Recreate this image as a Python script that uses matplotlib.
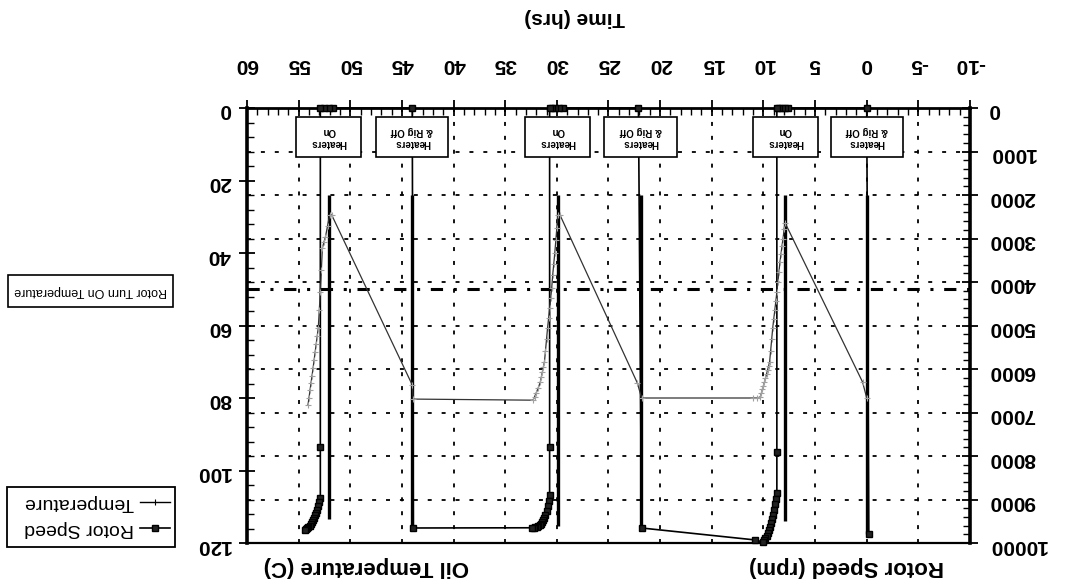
import matplotlib
matplotlib.use("Agg")
import matplotlib.pyplot as plt
import matplotlib.patches as mpatches
from matplotlib.lines import Line2D
from matplotlib.ticker import MultipleLocator

plt.rcParams['font.family'] = ['Liberation Sans', 'DejaVu Sans']
plt.rcParams['axes.unicode_minus'] = False

# rotor speed (rpm) vs time (hrs)
rotor_t = [-0.2, 0.0, 7.6, 7.9, 8.2, 8.5, 8.7, 8.7,
           8.7, 8.8, 8.9, 9.0, 9.1, 9.2, 9.3, 9.4, 9.5, 9.6, 9.7, 9.8, 9.9, 10.0,
           10.8, 21.8, 22.1, 29.4, 29.8, 30.2, 30.5, 30.7, 30.7,
           30.7, 30.8, 30.9, 31.0, 31.1, 31.2, 31.3, 31.4, 31.5, 31.65, 31.8, 31.95, 32.1, 32.25, 32.4,
           43.9, 44.0, 51.7, 52.1, 52.5, 52.9, 52.9,
           52.9, 53.0, 53.1, 53.2, 53.3, 53.4, 53.5, 53.6, 53.7, 53.8, 53.9, 54.05, 54.2, 54.3, 54.4]
rotor_rpm = [9800, 0, 0, 0, 0, 0, 0, 7900,
             8850, 8980, 9100, 9230, 9350, 9450, 9550, 9630, 9700, 9770, 9830, 9880, 9930, 9980,
             9930, 9655, 0, 0, 0, 0, 0, 0, 7800,
             8900, 9030, 9150, 9260, 9350, 9420, 9480, 9520, 9560, 9590, 9610, 9625, 9640, 9645, 9650,
             9655, 0, 0, 0, 0, 0, 7800,
             8970, 9060, 9150, 9230, 9300, 9360, 9420, 9470, 9520, 9560, 9600, 9630, 9660, 9680, 9700]

# oil temperature (C) vs time (hrs)
temp_t = [0.0, 0.4,
          7.9, 8.0, 8.1, 8.2, 8.3, 8.4, 8.5, 8.6, 8.7, 8.8, 8.9, 9.0, 9.1, 9.2, 9.3, 9.4,
          9.5, 9.6, 9.7, 9.8, 9.9, 10.0, 10.1, 10.2, 10.3, 10.6, 11.0,
          21.8, 22.2,
          29.7, 29.9, 30.0, 30.1, 30.2, 30.3, 30.4, 30.5, 30.6, 30.7, 30.8, 30.9, 31.0, 31.1,
          31.2, 31.3, 31.4, 31.5, 31.6, 31.8, 32.0, 32.15, 32.3,
          43.9, 44.0,
          51.8, 52.0, 52.2, 52.4, 52.55, 52.7, 52.8, 52.9, 53.0, 53.1, 53.2, 53.3, 53.4,
          53.5, 53.6, 53.7, 53.8, 53.9, 54.0, 54.1]
temp_c = [80, 75.6,
          31.7, 33.5, 36, 38, 40.3, 42.5, 45.3, 48, 50.8, 53.3, 55.8, 58.2, 60.7, 63.8, 66.9, 70,
          71.2, 72.3, 73.4, 74.5, 75.6, 76.6, 77.6, 78.7, 79.7, 80, 80,
          80, 75.9,
          29.5, 29.5, 33, 36.5, 40, 43, 46, 49.7, 52.5, 55.2, 58, 60.7, 63.8, 66.9,
          70, 71.4, 72.8, 74.2, 75.6, 77.2, 78.6, 79.6, 80.6,
          80.3, 76.4,
          29.5, 29.5, 32.5, 35.5, 37, 38.6, 44.7, 50.8, 55.7, 60.7, 62.9, 65.1, 67.3,
          69.5, 71.7, 73.8, 75.8, 77.9, 80, 82]

rotor_on_temp = 50

# events: time, bottom of the marker bar (rpm)
rig_off_t = [0.0, 21.9, 44.0]
rig_off_end = [9800, 9650, 9650]
heaters_on_t = [7.9, 29.9, 52.1]
heaters_on_end = [9500, 9600, 9450]
bar_start = 2000

x_ticks = list(range(-10, 61, 5))
rpm_ticks = list(range(0, 10001, 1000))
temp_ticks = list(range(0, 121, 20))

W, H = 1068, 583


def fx(px):
    return px / W


def fy(py):
    return 1 - py / H


fig = plt.figure(figsize=(W / 100, H / 100), dpi=100)
ax = fig.add_axes([fx(247), fy(543), fx(970) - fx(247), fy(108) - fy(543)])
ax2 = ax.twinx()

# picture is upside down: flip both axes, ticks on the opposite sides
ax.set_xlim(60, -10)
ax.set_ylim(10000, 0)
ax2.set_ylim(120, 0)
ax.xaxis.tick_top()
ax.yaxis.tick_right()
ax2.yaxis.tick_left()

ax.set_xticks(x_ticks)
ax.set_yticks(rpm_ticks)
ax2.set_yticks(temp_ticks)
ax.xaxis.set_minor_locator(MultipleLocator(1))
ax.yaxis.set_minor_locator(MultipleLocator(200))
ax2.yaxis.set_minor_locator(MultipleLocator(4))

for a in (ax, ax2):
    a.tick_params(which='major', direction='inout', length=11, width=1.3, colors='black')
    a.tick_params(which='minor', direction='in', length=5, width=1.0)
ax.tick_params(axis='x', which='major', pad=19)
ax.tick_params(axis='y', which='major', pad=8)
ax2.tick_params(axis='y', which='major', pad=6)
for lab in ax.get_xticklabels() + ax.get_yticklabels() + ax2.get_yticklabels():
    lab.set_rotation(180)
    lab.set_fontsize(15)
    lab.set_fontweight('bold')

for side, lw in [('left', 2.6), ('right', 2.6), ('top', 2.0), ('bottom', 1.6)]:
    ax.spines[side].set_linewidth(lw)
for s in ax2.spines.values():
    s.set_visible(False)

ax.grid(True, which='major', color='black', linestyle=(0, (2.2, 5.5)), linewidth=1.3)
ax.set_axisbelow(True)

# event bars
ax.vlines(rig_off_t, bar_start, rig_off_end, color='black', linewidth=2.4, zorder=3)
ax.vlines(heaters_on_t, bar_start, heaters_on_end, color='black', linewidth=2.4, zorder=3)

ax.plot(rotor_t, rotor_rpm, color='black', linewidth=1.2, marker='s', markersize=5,
        markerfacecolor='#222222', markeredgecolor='black', clip_on=False, zorder=4)

ax2.axhline(rotor_on_temp, color='black', linewidth=2.2, linestyle=(0, (4, 3.5, 1, 3.5)))
ax2.plot(temp_t, temp_c, color='#333333', linewidth=0.9, marker='+', markersize=5,
         markeredgecolor='#a0a0a0', markeredgewidth=0.8, zorder=3)

# callout boxes
for t in rig_off_t:
    ax.add_patch(mpatches.Rectangle((t - 3.5, 207), 7.0, 920, facecolor='white',
                                    edgecolor='black', linewidth=1.2, zorder=6))
    ax.text(t, 667, 'Heaters\n& Rig Off', rotation=180, ha='center', va='center',
            fontsize=7, fontweight='bold', linespacing=1.3, zorder=7)
for t in heaters_on_t:
    ax.add_patch(mpatches.Rectangle((t - 3.15, 207), 6.3, 920, facecolor='white',
                                    edgecolor='black', linewidth=1.2, zorder=6))
    ax.text(t, 667, 'Heaters\nOn', rotation=180, ha='center', va='center',
            fontsize=7, fontweight='bold', linespacing=1.3, zorder=7)

# axis titles
fig.text(fx(575), fy(17), 'Time (hrs)', rotation=180, ha='center', va='center',
         fontsize=15, fontweight='bold')
fig.text(fx(366), fy(567), 'Oil Temperature (C)', rotation=180, ha='center', va='center',
         fontsize=16, fontweight='bold')
fig.text(fx(847), fy(567), 'Rotor Speed (rpm)', rotation=180, ha='center', va='center',
         fontsize=16, fontweight='bold')

# rotor turn-on label
fig.add_artist(mpatches.Rectangle((fx(8), fy(307)), fx(173) - fx(8), fy(275) - fy(307),
                                  transform=fig.transFigure, facecolor='white',
                                  edgecolor='black', linewidth=1.2))
fig.text(fx(91), fy(291), 'Rotor Turn On Temperature', rotation=180, ha='center',
         va='center', fontsize=9)

# legend, drawn by hand so it can be upside down
fig.add_artist(mpatches.Rectangle((fx(7), fy(547)), fx(175) - fx(7), fy(487) - fy(547),
                                  transform=fig.transFigure, facecolor='white',
                                  edgecolor='black', linewidth=1.3))
fig.add_artist(Line2D([fx(140), fx(170)], [fy(528), fy(528)], transform=fig.transFigure,
                      color='black', linewidth=1.2))
fig.add_artist(Line2D([fx(155)], [fy(528)], transform=fig.transFigure,
                      color='black', marker='s', markersize=5, markerfacecolor='#222222'))
fig.add_artist(Line2D([fx(140), fx(170)], [fy(502), fy(502)], transform=fig.transFigure,
                      color='black', linewidth=1.0))
fig.add_artist(Line2D([fx(155)], [fy(502)], transform=fig.transFigure,
                      color='black', marker='|', markersize=5, markeredgewidth=0.8))
fig.text(fx(134), fy(528), 'Rotor Speed', rotation=180, ha='right', va='center', fontsize=14)
fig.text(fx(134), fy(502), 'Temperature', rotation=180, ha='right', va='center', fontsize=14)

fig.savefig('out.png', dpi=100)
